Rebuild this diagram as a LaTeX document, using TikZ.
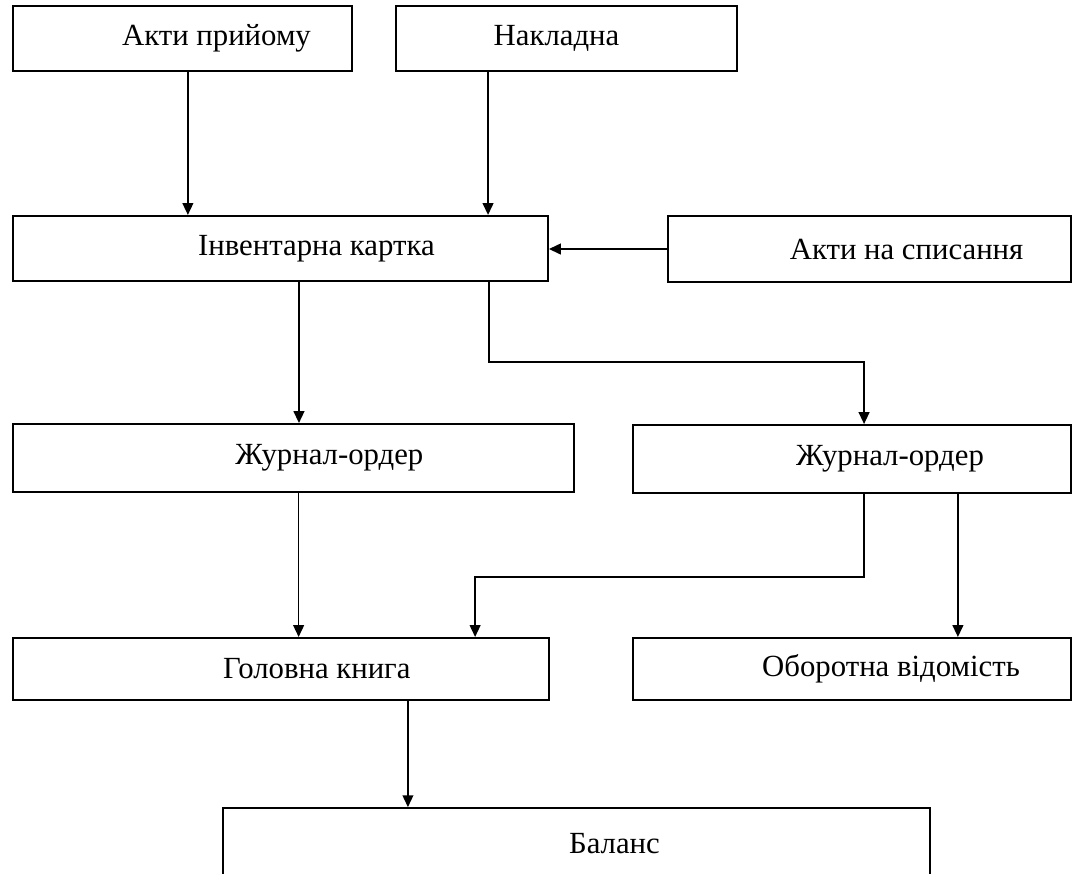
\documentclass[tikz,border=0pt]{standalone}
\usepackage{fontspec}
\setmainfont{Liberation Serif}
\usetikzlibrary{arrows.meta, positioning, calc}
\definecolor{ink}{HTML}{000000}
\newcommand{\indtxt}[1]{\hspace*{#1}}
\tikzset{
  font=\fontsize{12}{14}\selectfont,
  >={Triangle[length=4.6pt, width=4.2pt]},
  %
  blk/.style={
    draw=ink, line width=0.8pt, fill=white, inner sep=0pt,
    align=center, text=ink, minimum height=25.4pt,
  },
  %
  flow/.style={draw=ink, line width=0.6pt, ->},
}

\begin{document}
\begin{tikzpicture}[x=0.39pt, y=-0.39pt]

  \useasboundingbox (0,0) rectangle (1074,873);

  % --- sources ----------------------------------------------------------
  \node[blk, minimum width=132.2pt] (priyom) at (182.5,38.5) {\indtxt{26.5pt}Акти прийому};
  \node[blk, minimum width=133pt]   (naklad) at (566.5,38.5) {Накладна\indtxt{7.8pt}};

  % --- card -------------------------------------------------------------
  \node[blk, minimum width=208.6pt] (invent) at (280.5,248.5) {\indtxt{28pt}Інвентарна картка};
  \node[blk, minimum width=157.2pt] (spys)   at (869.5,249)   {\indtxt{28.9pt}Акти на списання};

  % --- journals ---------------------------------------------------------
  \node[blk, minimum width=218.8pt, minimum height=26.5pt] (zhurnL) at (293.5,458) {\indtxt{28pt}Журнал-ордер};
  \node[blk, minimum width=170.8pt, minimum height=26.5pt] (zhurnR) at (852,459)   {\indtxt{29.6pt}Журнал-ордер};

  % --- ledgers ----------------------------------------------------------
  \node[blk, minimum width=209pt, minimum height=24.2pt]   (holov)  at (281,669) {\indtxt{28pt}Головна книга};
  \node[blk, minimum width=170.8pt, minimum height=24.2pt] (oborot) at (852,669) {\indtxt{30.4pt}Оборотна відомість};

  % bottom edge runs off the page
  \node[blk, minimum width=275.7pt, minimum height=28pt] (balans) at (576.5,844) {\indtxt{29.6pt}Баланс};

  % --- connectors -------------------------------------------------------
  \draw[flow] ([xshift=2.1pt]priyom.south) -- ([xshift=2.1pt]priyom.south |- invent.north);
  \draw[flow] ([xshift=-30.6pt]naklad.south) -- ([xshift=-30.6pt]naklad.south |- invent.north);
  \draw[flow] (spys.west) -- (spys.west -| invent.east);

  \draw[flow] ([xshift=7.2pt]invent.south) -- ([xshift=7.2pt]invent.south |- zhurnL.north);
  \draw[flow] ([xshift=81.3pt]invent.south) -- ++(0,80) -| ([xshift=4.7pt]zhurnR.north);

  \draw[flow] ([xshift=2pt]zhurnL.south) -- ([xshift=2pt]zhurnL.south |- holov.north);
  \draw[flow] ([xshift=4.7pt]zhurnR.south) -- ++(0,83) -| ([xshift=75.7pt]holov.north);
  \draw[flow] ([xshift=41.3pt]zhurnR.south) -- ([xshift=41.3pt]zhurnR.south |- oborot.north);

  \draw[flow] ([xshift=49.5pt]holov.south) -- ([xshift=49.5pt]holov.south |- balans.north);

\end{tikzpicture}
\end{document}
